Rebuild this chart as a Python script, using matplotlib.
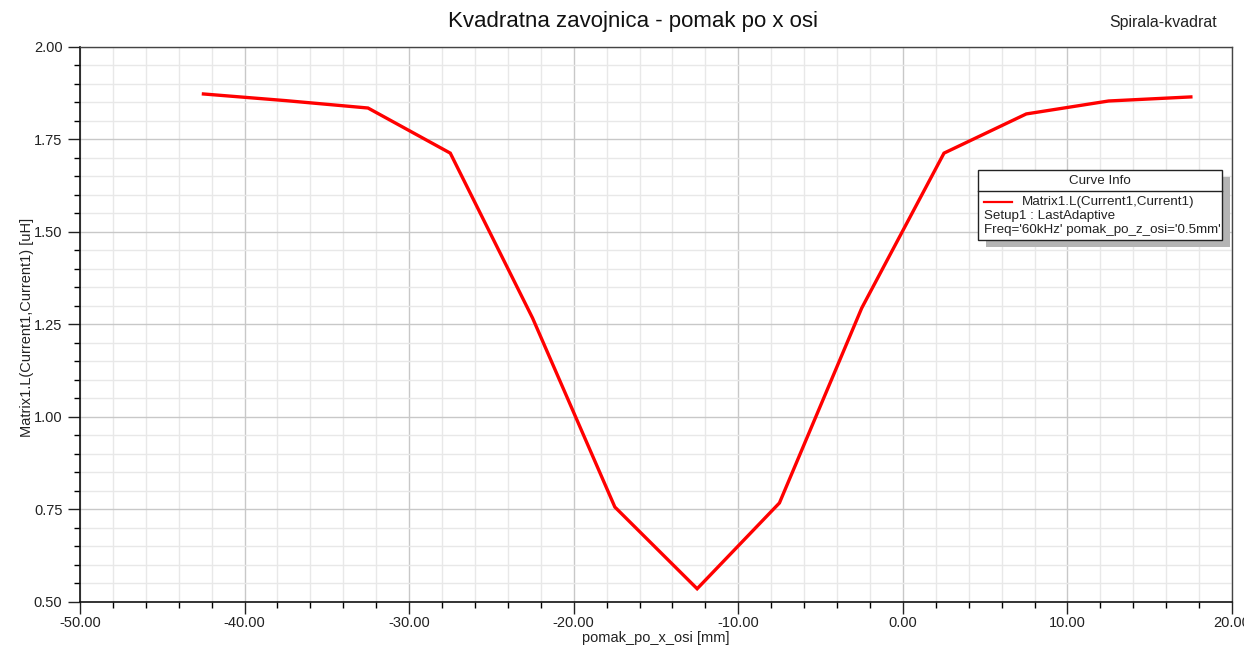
import matplotlib
matplotlib.use('Agg')
import matplotlib.pyplot as plt
from matplotlib.ticker import MultipleLocator, FormatStrFormatter
from matplotlib.patches import Rectangle
from matplotlib.lines import Line2D

plt.rcParams['font.family'] = ['Liberation Sans', 'DejaVu Sans']

# pomak po x osi [mm] i induktivitet [uH]
pomak_x = [-42.5, -37.5, -32.5, -27.5, -22.5, -17.5, -12.5, -7.5, -2.5, 2.5, 7.5, 12.5, 17.5]
induktivitet = [1.873, 1.855, 1.835, 1.713, 1.267, 0.756, 0.535, 0.767, 1.294, 1.713, 1.819, 1.854, 1.865]

naslov = 'Kvadratna zavojnica - pomak po x osi'
projekt = 'Spirala-kvadrat'
krivulja = 'Matrix1.L(Current1,Current1)'
setup = 'Setup1 : LastAdaptive'
parametri = "Freq='60kHz' pomak_po_z_osi='0.5mm'"

W, H = 1244, 648
fig = plt.figure(figsize=(W / 100, H / 100), dpi=100)
ax = fig.add_axes([80 / W, 1 - 601.7 / H, 1152 / W, 554.7 / H])


def fx(px):
    return px / W


def fy(py):
    return 1 - py / H


ax.plot(pomak_x, induktivitet, color='#ff0000', lw=2.4, solid_joinstyle='miter', zorder=3)

ax.set_xlim(-50, 20)
ax.set_ylim(0.5, 2.0)
ax.xaxis.set_major_locator(MultipleLocator(10))
ax.xaxis.set_minor_locator(MultipleLocator(2))
ax.yaxis.set_major_locator(MultipleLocator(0.25))
ax.yaxis.set_minor_locator(MultipleLocator(0.05))
ax.xaxis.set_major_formatter(FormatStrFormatter('%.2f'))
ax.yaxis.set_major_formatter(FormatStrFormatter('%.2f'))

ax.grid(which='major', color='#c8c8c8', lw=1.0)
ax.grid(which='minor', color='#e8e8e8', lw=1.0)
ax.set_axisbelow(True)

ax.tick_params(which='major', direction='out', length=8.6, width=1, labelsize=10.5,
               colors='#222222', top=False, right=False)
ax.tick_params(which='minor', direction='out', length=4, width=1, top=False, right=False)
ax.tick_params(axis='x', which='major', pad=2)
ax.tick_params(axis='y', which='major', pad=4)

for s in ['left', 'bottom']:
    ax.spines[s].set_color('#111111')
    ax.spines[s].set_linewidth(1.2)
for s in ['top', 'right']:
    ax.spines[s].set_color('#444444')
    ax.spines[s].set_linewidth(1.0)

ax.set_xlabel('pomak_po_x_osi [mm]', fontsize=10.5, color='#222222')
ax.xaxis.set_label_coords(0.5, (601.7 - 638) / 554.7)
ax.xaxis.label.set_va('center')
ax.set_ylabel(krivulja + ' [uH]', fontsize=10.5, color='#222222')
ax.yaxis.set_label_coords((27 - 80) / 1152, 0.495)
ax.yaxis.label.set_va('center')

fig.text(fx(633), fy(22), naslov, fontsize=16, ha='center', va='center', color='#111111')
fig.text(fx(1163), fy(22), projekt, fontsize=11.4, ha='center', va='center', color='#222222')

# okvir s opisom krivulje
x0, y0, x1, y1 = 978, 170, 1222, 240
fig.patches.append(Rectangle((fx(x0 + 8), fy(y1 + 7)), fx(x1 - x0), (y1 - y0) / H,
                             transform=fig.transFigure, facecolor='#b4b4b4',
                             edgecolor='none', zorder=5))
fig.patches.append(Rectangle((fx(x0), fy(y1)), fx(x1 - x0), (y1 - y0) / H,
                             transform=fig.transFigure, facecolor='white',
                             edgecolor='#222222', lw=1.0, zorder=6))
fig.lines.append(Line2D([fx(x0), fx(x1)], [fy(191), fy(191)], transform=fig.transFigure,
                        color='#222222', lw=1.0, zorder=7))
fig.lines.append(Line2D([fx(984), fx(1012)], [fy(202), fy(202)], transform=fig.transFigure,
                        color='#ff0000', lw=1.6, zorder=7))
fig.text(fx((x0 + x1) / 2), fy(181), 'Curve Info', fontsize=9.6, ha='center', va='center',
         color='#222222', zorder=8)
fig.text(fx(1022), fy(202), krivulja, fontsize=9.6, ha='left', va='center', color='#222222', zorder=8)
fig.text(fx(984), fy(216), setup, fontsize=9.6, ha='left', va='center', color='#222222', zorder=8)
fig.text(fx(984), fy(230), parametri, fontsize=9.6, ha='left', va='center', color='#222222', zorder=8)

fig.savefig('out.png', dpi=100)
